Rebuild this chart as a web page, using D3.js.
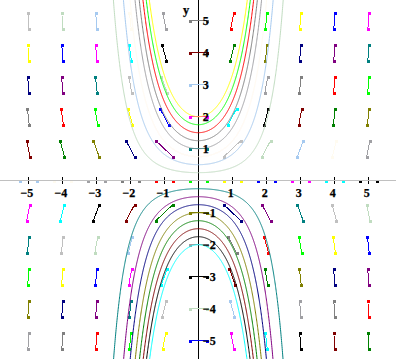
<!DOCTYPE html>
<html>
<head>
<meta charset="utf-8">
<script src="https://cdn.jsdelivr.net/npm/d3@7"></script>
<style>
  html, body { margin: 0; padding: 0; background: #fff; }
  svg { display: block; }
  text { font-family: "Liberation Serif", "DejaVu Serif", serif; font-weight: bold; }
</style>
</head>
<body>
<svg id="chart" width="396" height="359"></svg>
<script>
// ---- data ----
// slope field dy/dx = x*y sampled on an integer grid
const gridX = [-5, -4, -3, -2, -1, 0, 1, 2, 3, 4, 5];
const gridY = [-5, -4, -3, -2, -1, 0, 1, 2, 3, 4, 5];
// 19-colour palette cycled through the field and the curves
const palette = ["#000000", "#800000", "#008000", "#808000", "#000080", "#800080", "#008080",
                 "#C0C0C0", "#C0DCC0", "#A6CAF0", "#FFFBF0", "#A0A0A4", "#808080",
                 "#FF0000", "#00FF00", "#FFFF00", "#0000FF", "#FF00FF", "#00FFFF"];
// initial values y(0) of the drawn solution curves y = y0 * exp(x^2/2)
const initialValues = [-2, -1.75, -1.5, -1.25, -1, -0.75, -0.5, -0.25, 0,
                       0.25, 0.5, 0.75, 1, 1.25, 1.5, 1.75, 2];
const xTickValues = [-5, -4, -3, -2, -1, 1, 2, 3, 4, 5];
const yTickValues = [-5, -4, -3, -2, -1, 1, 2, 3, 4, 5];
const yAxisTitle = "y";

const W = 396, H = 359;
const svg = d3.select("#chart");
const x = d3.scaleLinear().domain([-5, 5]).range([28.3, 368.3]);
const y = d3.scaleLinear().domain([-5, 5]).range([340.7, 20.7]);
const slope = (a, b) => a * b;
const fmt = v => (v < 0 ? "\u2212" : "") + Math.abs(v);
const snap = v => Math.round(v - 0.5) + 0.5;

// axes
const ax = svg.append("g").attr("shape-rendering", "crispEdges");
ax.append("line").attr("x1", 0).attr("x2", W).attr("y1", snap(y(0))).attr("y2", snap(y(0)))
  .attr("stroke", "#000");
ax.append("line").attr("x1", snap(x(0))).attr("x2", snap(x(0))).attr("y1", 0).attr("y2", H)
  .attr("stroke", "#000");
ax.selectAll("line.xt").data(xTickValues).enter().append("line")
  .attr("x1", d => snap(x(d))).attr("x2", d => snap(x(d)))
  .attr("y1", y(0) - 4).attr("y2", y(0) + 3).attr("stroke", "#000");

// slope field
const field = [];
gridY.forEach((gy, r) => gridX.forEach((gx, c) => {
  const m = slope(gx, gy);
  const s = 0.5 / Math.max(1, Math.abs(m));
  const dx = s, dy = s * m;
  field.push({ gx, gy, dx, dy, color: palette[(11 + r * gridX.length + c) % palette.length] });
}));
const fg = svg.append("g").attr("shape-rendering", "crispEdges");
field.forEach(f => {
  const x1 = x(f.gx - f.dx / 2), y1 = y(f.gy - f.dy / 2);
  const x2 = x(f.gx + f.dx / 2), y2 = y(f.gy + f.dy / 2);
  fg.append("line").attr("x1", x1).attr("y1", y1).attr("x2", x2).attr("y2", y2)
    .attr("stroke", f.color).attr("stroke-width", 1);
  [[x1, y1], [x2, y2]].forEach(p => {
    fg.append("rect").attr("x", Math.round(p[0]) - 1.5).attr("y", Math.round(p[1]) - 1.5)
      .attr("width", 3).attr("height", 3).attr("fill", f.color);
  });
});

// solution curves
const xMin = x.invert(0), xMax = x.invert(W);
const cg = svg.append("g");
initialValues.forEach((y0, j) => {
  let lo = xMin, hi = xMax;
  if (y0 !== 0) {
    const lim = Math.sqrt(2 * Math.log(6.5 / Math.abs(y0)));
    lo = Math.max(lo, -lim); hi = Math.min(hi, lim);
  }
  const pts = d3.range(lo, hi, 0.005).concat([hi]).map(t => [t, y0 * Math.exp(t * t / 2)]);
  const line = d3.line().x(d => x(d[0])).y(d => y(d[1]));
  cg.append("path").attr("d", line(pts)).attr("fill", "none")
    .attr("stroke", palette[(18 + j) % palette.length]).attr("stroke-width", 1)
    .attr("shape-rendering", y0 === 0 ? "crispEdges" : "auto")
    .attr("transform", y0 === 0 ? "translate(0,-0.2)" : null);
});

// labels
const lg = svg.append("g").attr("font-size", 12).attr("fill", "#000")
  .attr("stroke", "#000").attr("stroke-width", 0.25);
lg.selectAll("text.xl").data(xTickValues).enter().append("text")
  .attr("x", d => x(d) - 1.5).attr("y", y(0) + 16.5).attr("text-anchor", "middle")
  .text(fmt);
lg.selectAll("text.yl").data(yTickValues).enter().append("text")
  .attr("x", x(0) + 4.5).attr("y", d => y(d) + 4).attr("text-anchor", "start")
  .text(fmt);
lg.append("text").attr("x", 183).attr("y", 13.5).attr("font-size", 12.5).text(yAxisTitle);
</script>
</body>
</html>
